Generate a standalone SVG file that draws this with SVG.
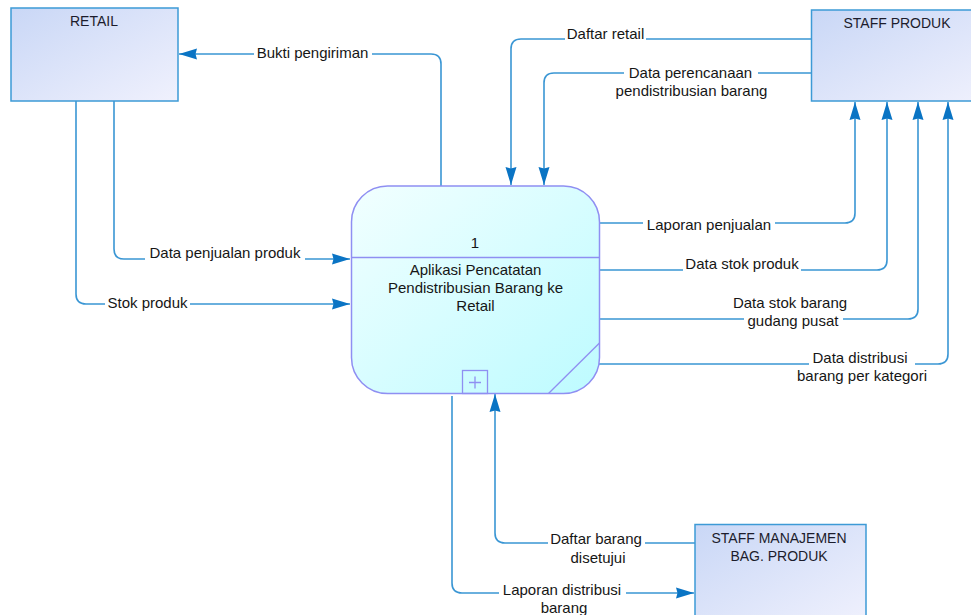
<svg xmlns="http://www.w3.org/2000/svg" width="971" height="615" viewBox="0 0 971 615">
  <style>
    .entity { fill: url(#entityFill); stroke: #3d9ad6; stroke-width: 1.5; }
    .proc { fill: url(#procFill); stroke: #8f8ff2; stroke-width: 1.5; }
    .procline { stroke: #8f8ff2; stroke-width: 1.3; fill: none; }
    .flow { fill: none; stroke: #3a96d4; stroke-width: 1.6; marker-end: url(#arrow); }
    .lbl { font-family: "Liberation Sans", Arial, sans-serif; font-size: 15px; fill: #161616; text-anchor: middle; }
    .name { font-family: "Liberation Sans", Arial, sans-serif; font-size: 14px; fill: #1c1c2c; text-anchor: middle; }
    .mask { fill: #ffffff; }
  </style>
  <defs>
    <linearGradient id="entityFill" x1="0" y1="0" x2="1" y2="1">
      <stop offset="0" stop-color="#c9d7f6"/>
      <stop offset="1" stop-color="#f0f1fd"/>
    </linearGradient>
    <linearGradient id="procFill" x1="0" y1="0" x2="1" y2="1">
      <stop offset="0" stop-color="#f2ffff"/>
      <stop offset="1" stop-color="#bdfbff"/>
    </linearGradient>
    <marker id="arrow" markerUnits="userSpaceOnUse" markerWidth="20" markerHeight="12" refX="18" refY="6" orient="auto">
      <path d="M0,0.5 L18,6 L0,11.5 L1.5,6 Z" fill="#0a74c4"/>
    </marker>
  </defs>

  <rect width="971" height="615" fill="#ffffff"/>

  <!-- data flows -->
  <g id="flows">
    <path class="flow" d="M441,186 V64 Q441,54 431,54 H179"/>
    <path class="flow" d="M811,39 H521 Q511,39 511,49 V185"/>
    <path class="flow" d="M811,73 H554 Q544,73 544,83 V185"/>
    <path class="flow" d="M599,223 H845 Q855,223 855,213 V102"/>
    <path class="flow" d="M599,270 H877 Q887,270 887,260 V102"/>
    <path class="flow" d="M599,319 H908 Q918,319 918,309 V102"/>
    <path class="flow" d="M599,364 H938 Q948,364 948,354 V102"/>
    <path class="flow" d="M114,101 V249 Q114,259 124,259 H350"/>
    <path class="flow" d="M76,101 V294 Q76,304 86,304 H350"/>
    <path class="flow" d="M695,543 H505 Q495,543 495,533 V394"/>
    <path class="flow" d="M452,396 V583 Q452,593 462,593 H694"/>

    <!-- label backgrounds and labels -->
    <rect class="mask" x="254" y="45" width="118" height="17"/>
    <text class="lbl" x="312.5" y="58">Bukti pengiriman</text>

    <rect class="mask" x="565" y="27" width="81" height="16"/>
    <text class="lbl" x="605.5" y="39">Daftar retail</text>

    <rect class="mask" x="624" y="64" width="134" height="16"/>
    <rect class="mask" x="611" y="82" width="162" height="17"/>
    <text class="lbl" x="690.5" y="77.5">Data perencanaan</text>
    <text class="lbl" x="691.5" y="95.5">pendistribusian barang</text>

    <rect class="mask" x="643" y="218" width="132" height="16"/>
    <text class="lbl" x="709" y="230">Laporan penjualan</text>

    <rect class="mask" x="683" y="257" width="118" height="16"/>
    <text class="lbl" x="742" y="269">Data stok produk</text>

    <rect class="mask" x="730" y="295" width="120" height="16"/>
    <rect class="mask" x="744" y="313" width="99" height="17"/>
    <text class="lbl" x="790" y="307.5">Data stok barang</text>
    <text class="lbl" x="793" y="325.5">gudang pusat</text>

    <rect class="mask" x="809" y="350" width="106" height="16"/>
    <rect class="mask" x="794" y="368" width="136" height="17"/>
    <text class="lbl" x="860" y="362.5">Data distribusi</text>
    <text class="lbl" x="862" y="380.5">barang per kategori</text>

    <rect class="mask" x="145" y="246" width="160" height="17"/>
    <text class="lbl" x="225" y="258">Data penjualan produk</text>

    <rect class="mask" x="105" y="295" width="85" height="17"/>
    <text class="lbl" x="147.5" y="307.5">Stok produk</text>

    <rect class="mask" x="548" y="532" width="97" height="16"/>
    <rect class="mask" x="567" y="550" width="62" height="16"/>
    <text class="lbl" x="596" y="544">Daftar barang</text>
    <text class="lbl" x="598" y="562.5">disetujui</text>

    <rect class="mask" x="499" y="583" width="127" height="16"/>
    <rect class="mask" x="539" y="601" width="50" height="14"/>
    <text class="lbl" x="562" y="594.5">Laporan distribusi</text>
    <text class="lbl" x="564" y="613">barang</text>
  </g>

  <!-- external entities -->
  <g id="retail">
    <rect class="entity" x="11" y="8" width="167" height="93"/>
    <text class="name" x="94" y="26">RETAIL</text>
  </g>
  <g id="staff-produk">
    <rect class="entity" x="811.5" y="10" width="180" height="91"/>
    <text class="name" x="897" y="27.5">STAFF PRODUK</text>
  </g>
  <g id="staff-manajemen">
    <rect class="entity" x="695" y="524.5" width="171" height="100"/>
    <text class="name" x="779" y="543">STAFF MANAJEMEN</text>
    <text class="name" x="779" y="560.5">BAG. PRODUK</text>
  </g>

  <!-- process 1 -->
  <g id="process-1">
    <rect class="proc" x="351.5" y="186" width="248" height="207.5" rx="36" ry="36"/>
    <line class="procline" x1="351.5" y1="257.5" x2="599.5" y2="257.5"/>
    <line class="procline" x1="599.5" y1="343" x2="548.5" y2="393.5"/>
    <rect class="procline" x="462.5" y="370.5" width="25" height="23"/>
    <path class="procline" d="M475,376.5 V388.5 M469,382.5 H481"/>
    <text class="lbl" x="475" y="248.3">1</text>
    <text class="lbl" x="475.5" y="274.5">Aplikasi Pencatatan</text>
    <text class="lbl" x="475.5" y="292.7">Pendistribusian Barang ke</text>
    <text class="lbl" x="475.5" y="311">Retail</text>
  </g>
</svg>
